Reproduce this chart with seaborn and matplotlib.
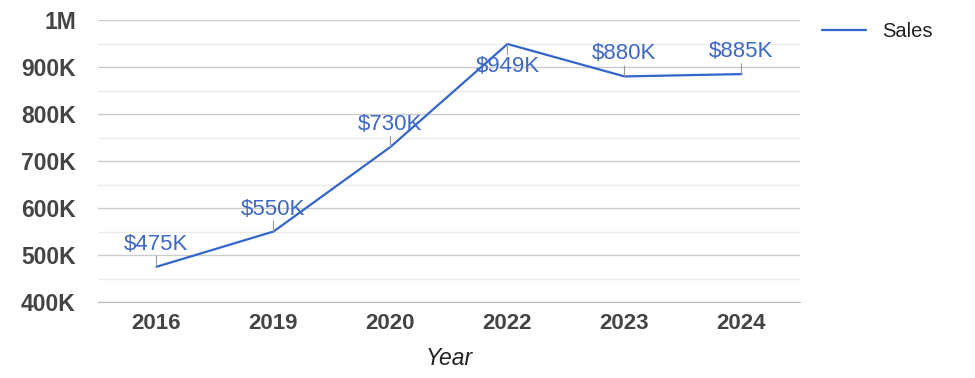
import numpy as np
import pandas as pd
import seaborn as sns
from matplotlib import pyplot as plt
from matplotlib.ticker import MultipleLocator, FuncFormatter

years = ['2016', '2019', '2020', '2022', '2023', '2024']
sales = [475000, 550000, 730000, 949000, 880000, 885000]
labels = ['$475K', '$550K', '$730K', '$949K', '$880K', '$885K']

df = pd.DataFrame({'Year': years, 'Sales': sales})

sns.set_style('white')
plt.rcParams['font.family'] = ['Liberation Sans', 'DejaVu Sans']

blue = '#3366cc'
fig = plt.figure(figsize=(9.75, 3.78), dpi=100)
ax = fig.add_axes([0.1005, 0.201, 0.72, 0.746])

sns.lineplot(data=df, x='Year', y='Sales', color=blue, linewidth=1.6,
             label='Sales', ax=ax, sort=False)

ax.set_xlim(-0.5, len(years) - 0.5)
ax.set_ylim(400000, 1000000)
ax.yaxis.set_major_locator(MultipleLocator(100000))
ax.yaxis.set_minor_locator(MultipleLocator(50000))
ax.yaxis.set_major_formatter(FuncFormatter(
    lambda v, p: '1M' if v >= 1000000 else f'{int(v/1000)}K'))
ax.grid(which='major', axis='y', color='#cccccc', linewidth=1)
ax.grid(which='minor', axis='y', color='#ebebeb', linewidth=1)
ax.set_axisbelow(True)
for s in ['top', 'right', 'left']:
    ax.spines[s].set_visible(False)
ax.spines['bottom'].set_color('#bbbbbb')
ax.tick_params(axis='both', which='both', length=0)
ax.tick_params(axis='y', pad=16)
ax.tick_params(axis='x', pad=8)
for t in ax.get_xticklabels():
    t.set_fontsize(16)
    t.set_fontweight('bold')
    t.set_color('#444444')
for t in ax.get_yticklabels():
    t.set_fontsize(16.5)
    t.set_fontweight('bold')
    t.set_color('#444444')

ax.set_ylabel('')
ax.set_xlabel('Year', fontsize=16.5, style='italic', color='#222222', labelpad=9)

# data labels with short leader lines
for i, (v, lab) in enumerate(zip(sales, labels)):
    d = -1 if v > 940000 else 1
    ax.annotate('', xy=(i, v), xytext=(0, 7.5 * d), textcoords='offset points',
                arrowprops=dict(arrowstyle='-', color='#999999', lw=0.8,
                                shrinkA=0, shrinkB=0))
    ax.annotate(lab, xy=(i, v), xytext=(0, 16.2 * d), textcoords='offset points',
                ha='center', va='center', fontsize=16, color='#3d68c8')

ax.legend(loc='upper left', bbox_to_anchor=(1.002, 1.065), frameon=False,
          fontsize=14.5, handlelength=2.2, handletextpad=0.8,
          borderaxespad=0.6, labelcolor='#222222')

plt.savefig('out.png', dpi=100)
